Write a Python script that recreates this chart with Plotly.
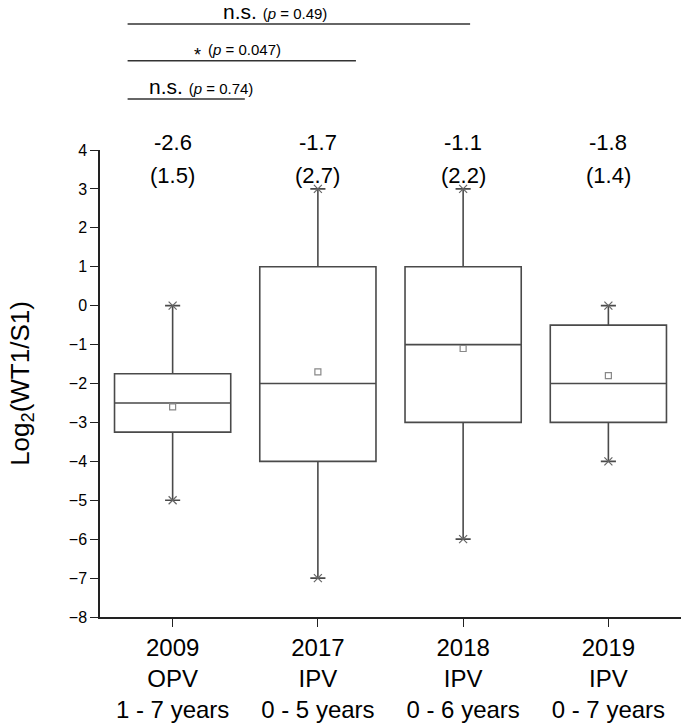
import plotly.graph_objects as go

categories = ["2009<br>OPV<br>1 - 7 years", "2017<br>IPV<br>0 - 5 years",
              "2018<br>IPV<br>0 - 6 years", "2019<br>IPV<br>0 - 7 years"]
lower_whisker = [-5, -7, -6, -4]
q1 = [-3.25, -4, -3, -3]
median = [-2.5, -2, -1, -2]
q3 = [-1.75, 1, 1, -0.5]
upper_whisker = [0, 3, 3, 0]
mean = [-2.6, -1.7, -1.1, -1.8]
sd = [1.5, 2.7, 2.2, 1.4]
y_ticks = list(range(-8, 5))

p_values = ["0.49", "0.047", "0.74"]
sig_labels = ["n.s.", "*", "n.s."]

FONT = "Liberation Sans, Arial, sans-serif"
LINE = "#4a4a4a"

fig = go.Figure()
fig.add_trace(go.Box(
    x=categories, q1=q1, median=median, q3=q3,
    lowerfence=lower_whisker, upperfence=upper_whisker,
    width=0.8, whiskerwidth=0.13, fillcolor="rgba(0,0,0,0)",
    line=dict(color=LINE, width=1.6), boxpoints=False, showlegend=False,
    hoverinfo="skip",
))
# whisker end markers
fig.add_trace(go.Scatter(
    x=categories + categories, y=lower_whisker + upper_whisker, mode="markers",
    marker=dict(symbol="x-thin-open", size=8, color="#666", line=dict(color="#666", width=1.2)),
    showlegend=False, cliponaxis=False, hoverinfo="skip",
))
# mean markers
fig.add_trace(go.Scatter(
    x=categories, y=mean, mode="markers",
    marker=dict(symbol="square-open", size=6, color="#888", line=dict(color="#888", width=1.2)),
    showlegend=False, cliponaxis=False, hoverinfo="skip",
))

annotations = []
for i, (m, s) in enumerate(zip(mean, sd)):
    annotations.append(dict(x=i, y=1.015, xref="x", yref="paper", text=f"{m:.1f}",
                            showarrow=False, font=dict(size=22, color="black", family=FONT),
                            yanchor="middle"))
    annotations.append(dict(x=i, y=0.946, xref="x", yref="paper", text=f"({s:.1f})",
                            showarrow=False, font=dict(size=22, color="black", family=FONT),
                            yanchor="middle"))

shapes = []
line_y = [1.270, 1.191, 1.109]
line_end = [2.048, 1.262, 0.497]
for ly, le in zip(line_y, line_end):
    shapes.append(dict(type="line", xref="x", yref="paper", x0=-0.31, x1=le,
                       y0=ly, y1=ly, line=dict(color="#333", width=1.5)))

annotations += [
    dict(x=0.703, y=1.296, xref="x", yref="paper", showarrow=False, yanchor="middle",
         text=f"{sig_labels[0]} <span style='font-size:15px'>(<i>p</i> = {p_values[0]})</span>",
         font=dict(size=21, color="black", family=FONT)),
    dict(x=0.497, y=1.216, xref="x", yref="paper", showarrow=False, yanchor="middle",
         text=f"(<i>p</i> = {p_values[1]})", font=dict(size=15, color="black", family=FONT)),
    dict(x=0.172, y=1.204, xref="x", yref="paper", showarrow=False, yanchor="middle",
         text=sig_labels[1], font=dict(size=18, color="black", family=FONT)),
    dict(x=0.198, y=1.135, xref="x", yref="paper", showarrow=False, yanchor="middle",
         text=f"{sig_labels[2]} <span style='font-size:15px'>(<i>p</i> = {p_values[2]})</span>",
         font=dict(size=21, color="black", family=FONT)),
]

fig.update_layout(
    width=685, height=724,
    margin=dict(l=100, r=4, t=150, b=107),
    paper_bgcolor="white", plot_bgcolor="white",
    font=dict(family=FONT, color="black"),
    annotations=annotations, shapes=shapes,
    xaxis=dict(type="category", range=[-0.5, 3.5], showline=True, linecolor="#222",
               linewidth=1.5, ticks="outside", ticklen=8, tickcolor="#222",
               tickfont=dict(size=24, family=FONT), showgrid=False, zeroline=False,
               automargin=False),
    yaxis=dict(range=[-8, 4], tickvals=y_ticks, showline=True, linecolor="#222",
               linewidth=1.5, ticks="outside", ticklen=8, tickcolor="#222",
               tickfont=dict(size=16, family=FONT), showgrid=False, zeroline=False,
               automargin=False,
               title=dict(text="Log<sub>2</sub>(WT1/S1)", font=dict(size=26, family=FONT),
                          standoff=32)),
)

fig.write_html("out.html", config={"displayModeBar": False},
               post_script="document.body.style.margin='0';document.body.style.overflow='hidden';")
